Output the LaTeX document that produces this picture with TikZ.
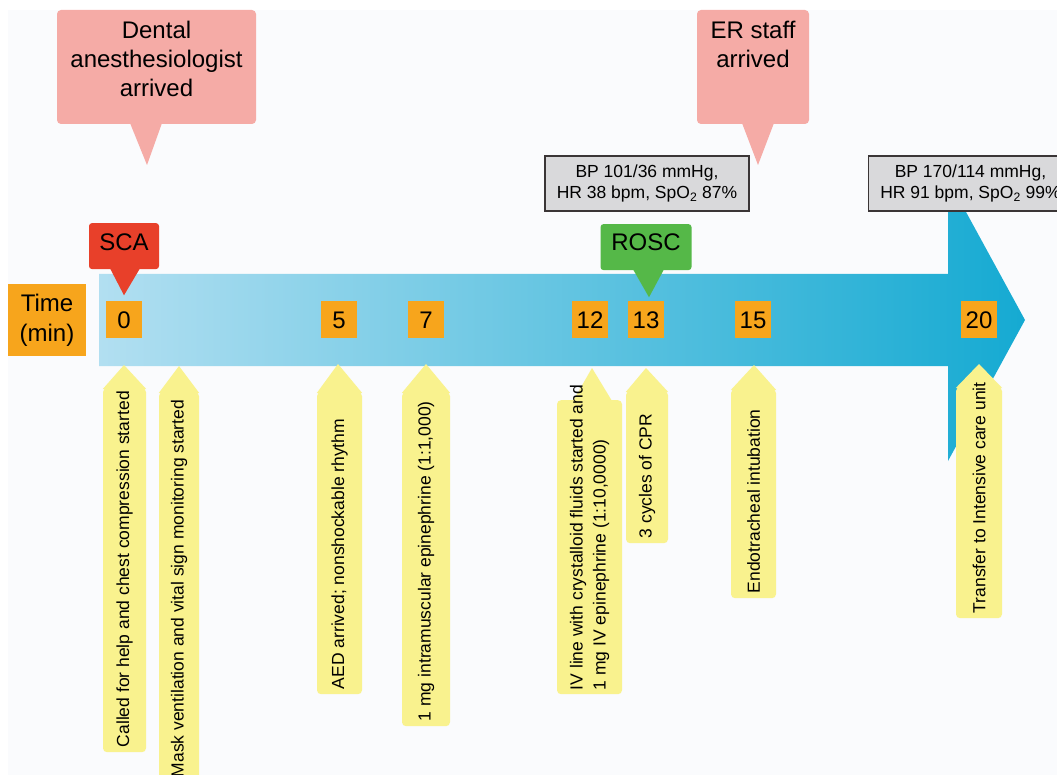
\documentclass[tikz,border=0pt]{standalone}
\usepackage{fontspec}
\setmainfont{Liberation Sans}
\usetikzlibrary{positioning}
\definecolor{bgfill}{HTML}{FAFBFD}
\definecolor{salmon}{HTML}{F5ABA6}
\definecolor{scared}{HTML}{E8402A}
\definecolor{roscgreen}{HTML}{55B848}
\definecolor{vitalgrey}{HTML}{D9D9DB}
\definecolor{vitalborder}{HTML}{3A3536}
\definecolor{minorange}{HTML}{F7A51C}
\definecolor{notefill}{HTML}{F9F28E}
\definecolor{arrowlight}{HTML}{B2DFF1}
\definecolor{arrowdark}{HTML}{15AAD2}
\pgfmathsetmacro{\axisy}{320}
\tikzset{
    bigtext/.style={font=\fontsize{24}{29}\selectfont},
    smalltext/.style={font=\fontsize{17.5}{21}\selectfont},
    arrivebox/.style={fill=salmon, rounded corners=4pt, inner sep=0pt},
    eventbox/.style={bigtext, rounded corners=3pt, inner sep=0pt, minimum height=46pt, text depth=7pt},
    minbox/.style={bigtext, fill=minorange, inner sep=0pt, minimum width=36pt, minimum height=37pt},
    vitalbox/.style={smalltext, fill=vitalgrey, draw=vitalborder, line width=1.3pt, align=center,
        inner sep=0pt, minimum width=204pt, minimum height=55pt},
    notebox/.style={fill=notefill, rounded corners=4pt, inner sep=0pt, anchor=north},
    notetext/.style={smalltext, rotate=90, align=left, inner sep=0pt, anchor=west},
}

\begin{document}
\begin{tikzpicture}[x=1pt, y=-1pt]
    % canvas
    \useasboundingbox (0,0) rectangle (1057,775);
    \clip (0,0) rectangle (1057,775);
    \fill[bgfill] (8,10) rectangle (1057,775);
    % time arrow
    \path[left color=arrowlight, right color=arrowdark]
        (99,274) -- (948,274) -- (948,179) -- (1025,320) -- (948,461) -- (948,366) -- (99,366) -- cycle;
    % notes below the arrow
    \node[notebox, minimum width=43pt, minimum height=364pt] (note_call) at (124.5,388) {};
    \fill[notefill] ([yshift=-1pt]note_call.north west) -- (124,365) -- ([yshift=-1pt]note_call.north east) -- cycle;
    \node[notetext] (note_call_text) at ([yshift=5pt]note_call.south) {Called for help and chest compression started};
    \node[notebox, minimum width=40pt, minimum height=390pt] (note_mask) at (179,392) {};
    \fill[notefill] ([yshift=-1pt]note_mask.north west) -- (179,366) -- ([yshift=-1pt]note_mask.north east) -- cycle;
    \node[notetext] (note_mask_text) at ([yshift=5pt]note_mask.south) {Mask ventilation and vital sign monitoring started};
    \node[notebox, minimum width=45pt, minimum height=302pt] (note_aed) at (339.5,392) {};
    \fill[notefill] ([yshift=-1pt]note_aed.north west) -- (338,364) -- ([yshift=-1pt]note_aed.north east) -- cycle;
    \node[notetext] (note_aed_text) at ([yshift=5pt]note_aed.south) {AED arrived; nonshockable rhythm};
    \node[notebox, minimum width=48pt, minimum height=334pt] (note_im) at (426,392) {};
    \fill[notefill] ([yshift=-1pt]note_im.north west) -- (426,364) -- ([yshift=-1pt]note_im.north east) -- cycle;
    \node[notetext] (note_im_text) at ([yshift=5pt]note_im.south) {1 mg intramuscular epinephrine (1:1,000)};
    \node[notebox, minimum width=65pt, minimum height=294pt] (note_iv) at (589.5,400) {};
    \fill[notefill] (573,401) -- (592,368) -- (612,401) -- cycle;
    \node[notetext, font=\fontsize{17.5}{23}\selectfont] (note_iv_text) at ([yshift=4pt]note_iv.south)
        {IV line with crystalloid fluids started and\\1 mg IV epinephrine (1:10,0000)};
    \node[notebox, minimum width=42pt, minimum height=152pt] (note_cpr) at (647,391) {};
    \fill[notefill] ([yshift=-1pt]note_cpr.north west) -- (646,368) -- ([yshift=-1pt]note_cpr.north east) -- cycle;
    \node[notetext] (note_cpr_text) at ([yshift=5pt]note_cpr.south) {3 cycles of CPR};
    \node[notebox, minimum width=45pt, minimum height=209pt] (note_intub) at (753.5,389) {};
    \fill[notefill] ([yshift=-1pt]note_intub.north west) -- (754,365) -- ([yshift=-1pt]note_intub.north east) -- cycle;
    \node[notetext] (note_intub_text) at ([yshift=5pt]note_intub.south) {Endotracheal intubation};
    \node[notebox, minimum width=46pt, minimum height=231pt] (note_icu) at (979,387) {};
    \fill[notefill] ([yshift=-1pt]note_icu.north west) -- (979,364) -- ([yshift=-1pt]note_icu.north east) -- cycle;
    \node[notetext] (note_icu_text) at ([yshift=5pt]note_icu.south) {Transfer to Intensive care unit};
    % minutes
    \node[minbox, minimum width=78pt, minimum height=72pt, align=center, font=\fontsize{24}{30}\selectfont]
        (time_box) at (47,\axisy) {Time\\(min)};
    \node[minbox] (t_0) at (124,\axisy) {0};
    \node[minbox] (t_5) at (339,\axisy) {5};
    \node[minbox] (t_7) at (426,\axisy) {7};
    \node[minbox] (t_12) at (590,\axisy) {12};
    \node[minbox] (t_13) at (646,\axisy) {13};
    \node[minbox] (t_15) at (753,\axisy) {15};
    \node[minbox] (t_20) at (979,\axisy) {20};
    % events above the arrow
    \node[eventbox, fill=scared, minimum width=70pt, above=32pt of t_0] (sca_box) {SCA};
    \fill[scared] ([xshift=-14pt, yshift=1pt]sca_box.south) -- ([yshift=6pt]t_0.north)
        -- ([xshift=16pt, yshift=1pt]sca_box.south) -- cycle;
    \node[eventbox, fill=roscgreen, minimum width=91pt, text depth=9pt, above=31pt of t_13] (rosc_box) {ROSC};
    \fill[roscgreen] ([xshift=-13pt, yshift=1pt]rosc_box.south) -- ([xshift=3pt, yshift=4pt]t_13.north)
        -- ([xshift=18pt, yshift=1pt]rosc_box.south) -- cycle;
    % arrivals
    \node[arrivebox, minimum width=199pt, minimum height=114pt] (dental_box) at (156.5,67) {};
    \fill[salmon] (130,123) -- (147,165) -- (162,123) -- cycle;
    \node[bigtext, align=center, inner sep=0pt, below=11pt of dental_box.north] (dental_text)
        {Dental\\anesthesiologist\\arrived};
    \node[arrivebox, minimum width=112pt, minimum height=114pt] (er_box) at (753,67) {};
    \fill[salmon] (742,123) -- (758,165) -- (774,123) -- cycle;
    \node[bigtext, align=center, inner sep=0pt, below=11pt of er_box.north] (er_text) {ER staff\\arrived};
    % vital signs
    \node[vitalbox] (vital_rosc) at (647,183.5) {BP 101/36 mmHg,\\HR 38 bpm, SpO\textsubscript{2} 87\%};
    \node[vitalbox] (vital_icu) at (970.5,183.5) {BP 170/114 mmHg,\\HR 91 bpm, SpO\textsubscript{2} 99\%};
\end{tikzpicture}
\end{document}
